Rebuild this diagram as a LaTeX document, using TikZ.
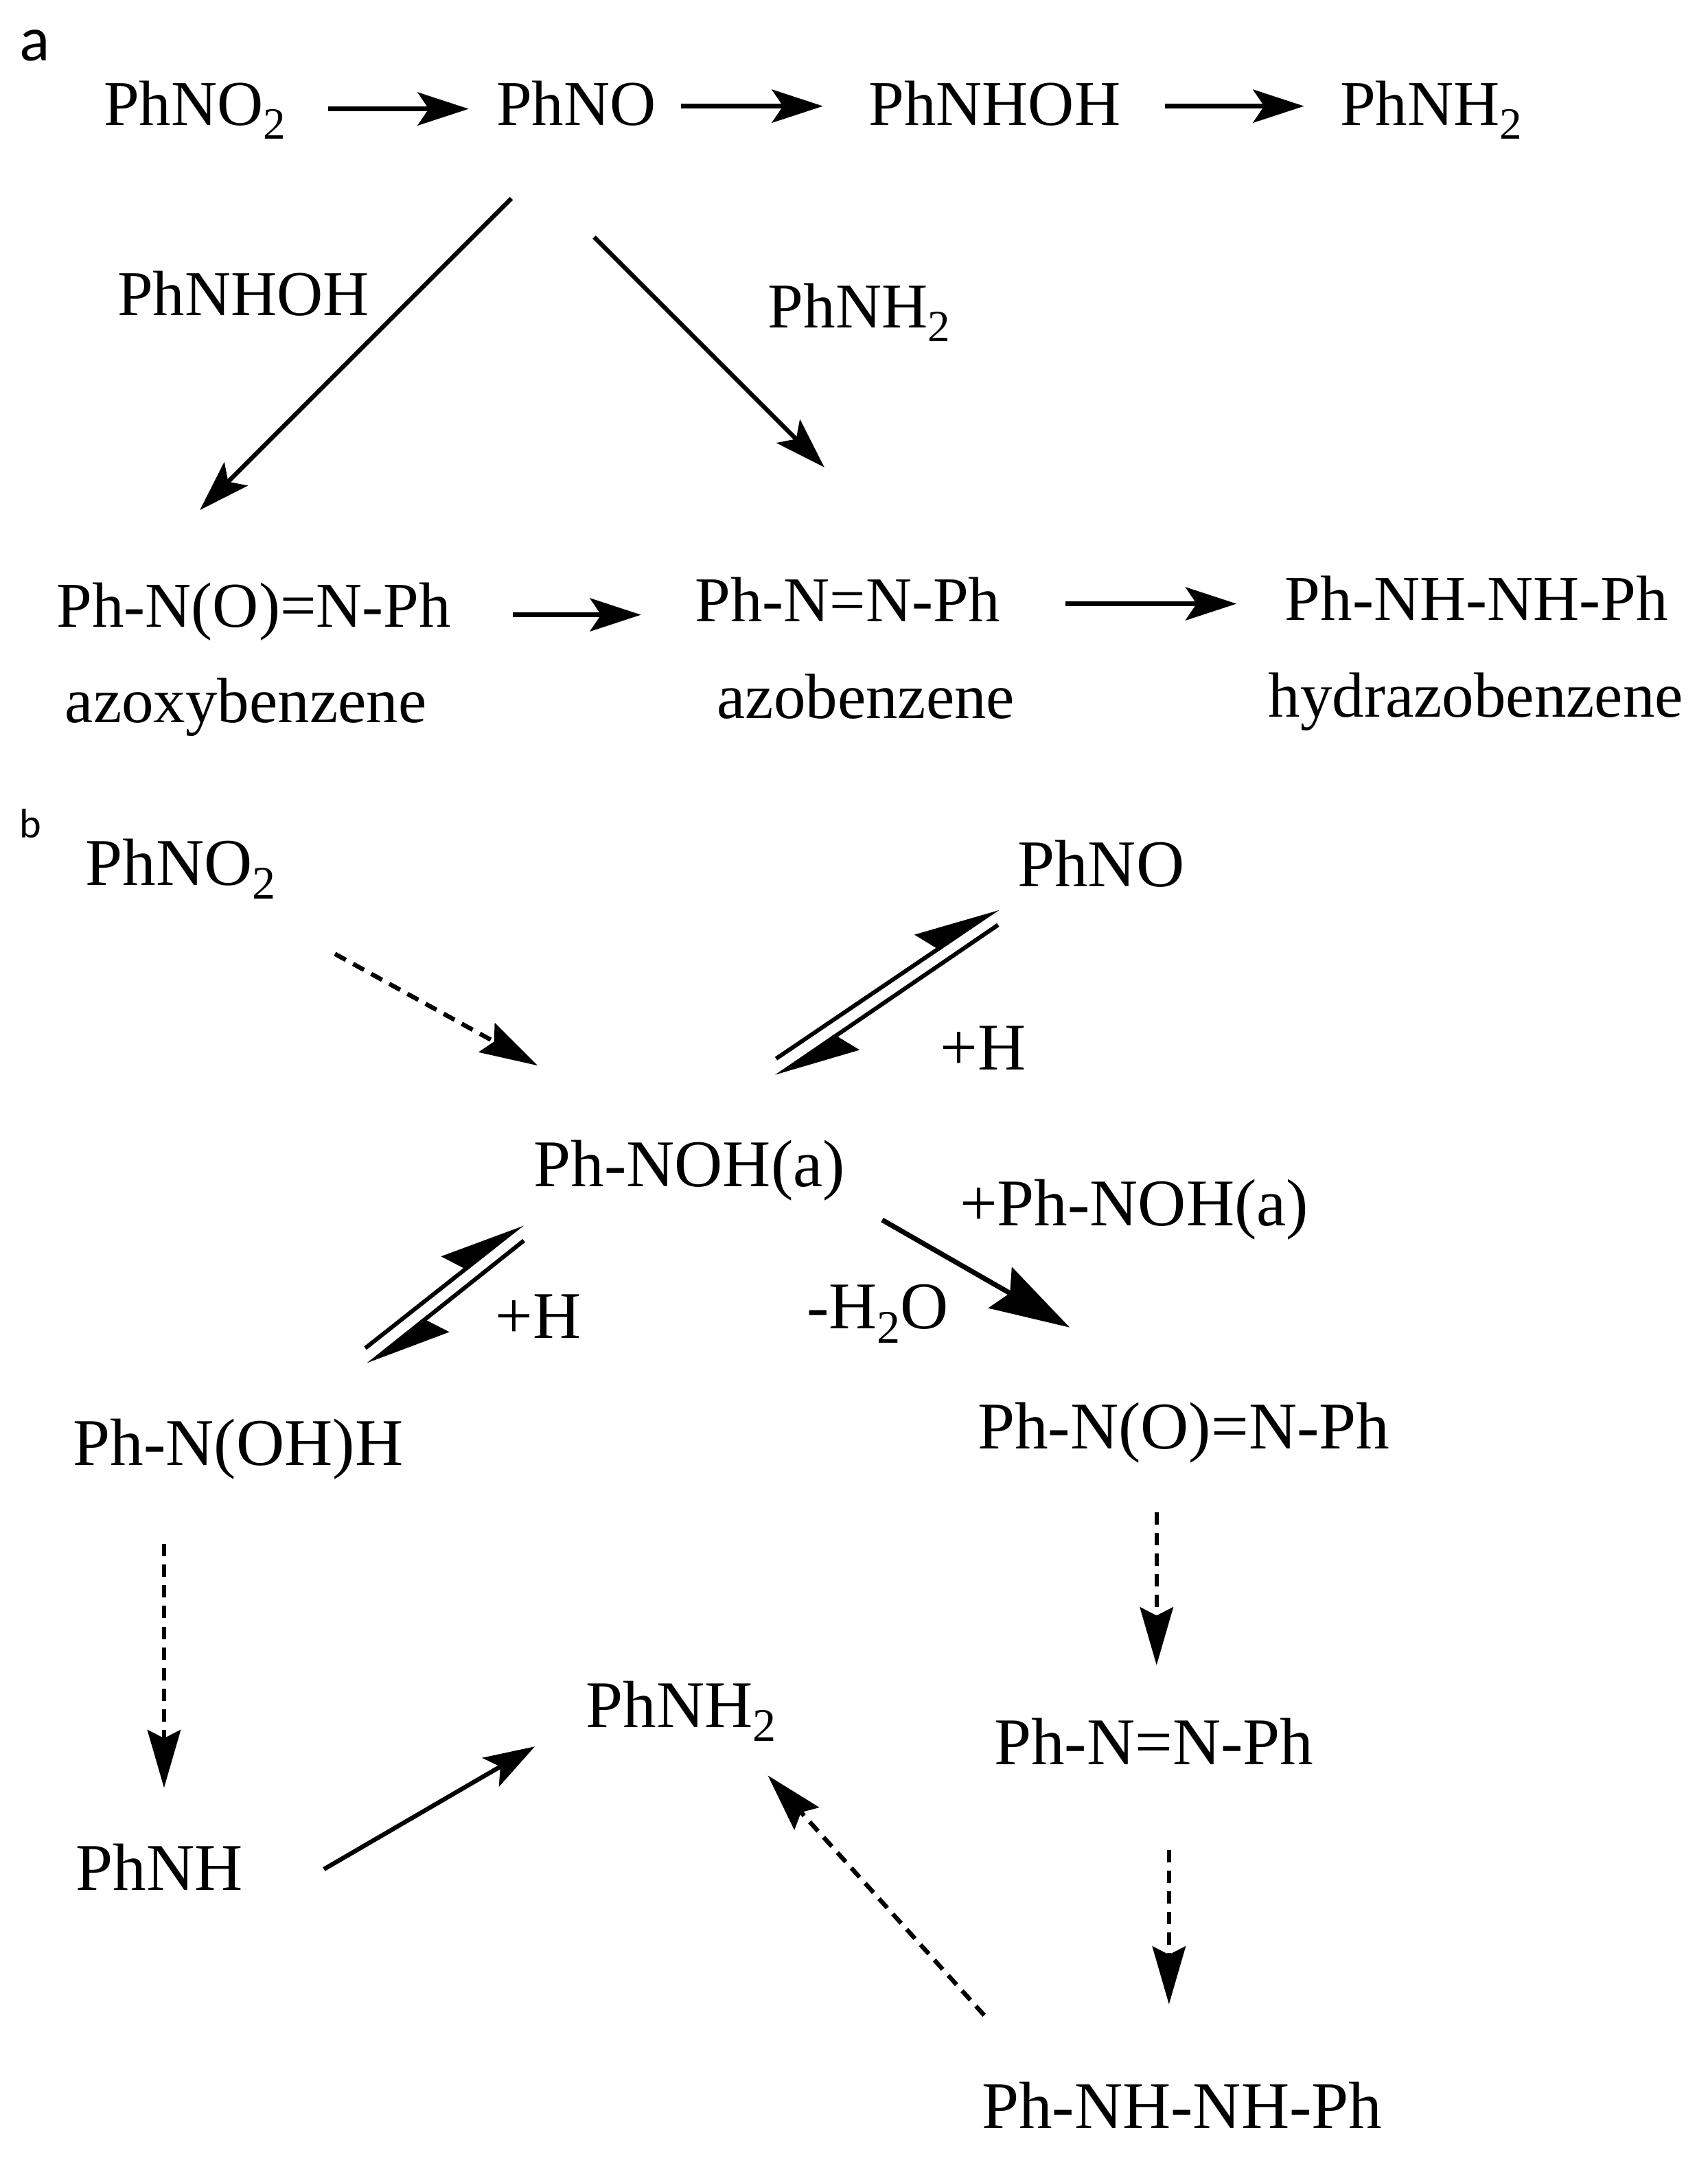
\documentclass[tikz,border=0pt]{standalone}
\usepackage{fontspec}
\setmainfont{Liberation Serif}
\newfontfamily\panelfont{Carlito}
\usetikzlibrary{arrows.meta}
\newcommand{\subnum}[1]{\raisebox{-0.21em}{\scalebox{0.7}{#1}}}
\tikzset{
  chem/.style={anchor=base west, inner sep=0pt, font=\fontsize{46.3}{54}\selectfont},
  chemb/.style={anchor=base west, inner sep=0pt, font=\fontsize{48.4}{54}\selectfont},
  panel/.style={anchor=base west, inner sep=0pt, font=\panelfont\fontsize{46}{54}\selectfont},
  arrow/.style={-{Stealth[length=37pt,width=24pt,inset=8pt]}, line width=3.2pt},
  dasharrow/.style={-{Stealth[length=42pt,width=24pt,inset=6pt]}, line width=3.2pt, dash pattern=on 9pt off 6pt},
  boldarrow/.style={-{Stealth[length=58pt,width=34pt,inset=8pt]}, line width=3.6pt},
  eqarrow/.style={-{Stealth[harpoon,length=56pt,width=36pt,inset=8pt]}, line width=3pt}
}

\begin{document}
\begin{tikzpicture}[x=1pt, y=-1pt]
\useasboundingbox (0,0) rectangle (1239,1567.7);

% panel a
\node[panel] (labela) at (14,44) {a};
\node[chem] (nitroa) at (75,91) {PhNO\subnum{2}};
\node[chem] (nitrosoa) at (360,91) {PhNO};
\node[chem] (hydroxa) at (630,91) {PhNHOH};
\node[chem] (anilinea) at (972,91) {PhNH\subnum{2}};
\node[chem] (addhydrox) at (85,229) {PhNHOH};
\node[chem] (addaniline) at (557,238) {PhNH\subnum{2}};
\node[chem] (azoxya) at (41,455) {Ph-N(O)=N-Ph};
\node[chem] (azoxyname) at (47,524) {azoxybenzene};
\node[chem] (azoa) at (504,451) {Ph-N=N-Ph};
\node[chem] (azoname) at (520,521) {azobenzene};
\node[chem] (hydrazoa) at (932,450) {Ph-NH-NH-Ph};
\node[chem] (hydrazoname) at (920,520) {hydrazobenzene};

\draw[arrow] ([shift={(163,-12)}]nitroa.base west) -- ([shift={(-20,-12)}]nitrosoa.base west);
\draw[arrow] ([shift={(134,-14)}]nitrosoa.base west) -- ([shift={(-33,-14)}]hydroxa.base west);
\draw[arrow] ([shift={(215,-14)}]hydroxa.base west) -- ([shift={(-26,-14)}]anilinea.base west);
\draw[arrow] ([shift={(11,53)}]nitrosoa.base west) -- ([shift={(104,-85)}]azoxya.base west);
\draw[arrow] ([shift={(71,81)}]nitrosoa.base west) -- ([shift={(94,-112)}]azoa.base west);
\draw[arrow] ([shift={(331,-9)}]azoxya.base west) -- ([shift={(-39,-5)}]azoa.base west);
\draw[arrow] ([shift={(269,-13)}]azoa.base west) -- ([shift={(-35,-12)}]hydrazoa.base west);

% panel b
\node[panel, font=\panelfont\fontsize{30}{36}\selectfont] (labelb) at (14,608) {b};
\node[chemb] (nitrob) at (62,642) {PhNO\subnum{2}};
\node[chemb] (nitrosob) at (738,643) {PhNO};
\node[chemb] (adsorbed) at (387,861) {Ph-NOH(a)};
\node[chemb] (addh) at (682,776) {+H};
\node[chemb] (addadsorbed) at (696,889) {+Ph-NOH(a)};
\node[chemb] (losswater) at (585,964) {-H\subnum{2}O};
\node[chemb] (addhb) at (359,971) {+H};
\node[chemb] (hydroxb) at (53,1063) {Ph-N(OH)H};
\node[chemb] (azoxyb) at (709,1051) {Ph-N(O)=N-Ph};
\node[chemb] (anilineb) at (425,1253) {PhNH\subnum{2}};
\node[chemb] (azob) at (721,1280) {Ph-N=N-Ph};
\node[chemb] (imido) at (55,1371) {PhNH};
\node[chemb] (hydrazob) at (712,1544) {Ph-NH-NH-Ph};

\draw[dasharrow] ([shift={(181,50)}]nitrob.base west) -- ([shift={(3,-88)}]adsorbed.base west);
\draw[eqarrow] ([shift={(176,-93)}]adsorbed.base west) -- ([shift={(-14,16)}]nitrosob.base west);
\draw[eqarrow] ([shift={(-14,28)}]nitrosob.base west) -- ([shift={(176,-80)}]adsorbed.base west);
\draw[boldarrow] ([shift={(253,24)}]adsorbed.base west) -- ([shift={(67,-88)}]azoxyb.base west);
\draw[eqarrow] ([shift={(212,-85)}]hydroxb.base west) -- ([shift={(-8,27)}]adsorbed.base west);
\draw[eqarrow] ([shift={(-7,39)}]adsorbed.base west) -- ([shift={(214,-73)}]hydroxb.base west);
\draw[dasharrow] ([shift={(66,57)}]hydroxb.base west) -- ([shift={(64,-74)}]imido.base west);
\draw[arrow] ([shift={(180,-15)}]imido.base west) -- ([shift={(-37,14)}]anilineb.base west);
\draw[dasharrow] ([shift={(130,46)}]azoxyb.base west) -- ([shift={(118,-72)}]azob.base west);
\draw[dasharrow] ([shift={(127,62)}]azob.base west) -- ([shift={(136,-90)}]hydrazob.base west);
\draw[dasharrow] ([shift={(2,-82)}]hydrazob.base west) -- ([shift={(132,35)}]anilineb.base west);

\end{tikzpicture}
\end{document}
